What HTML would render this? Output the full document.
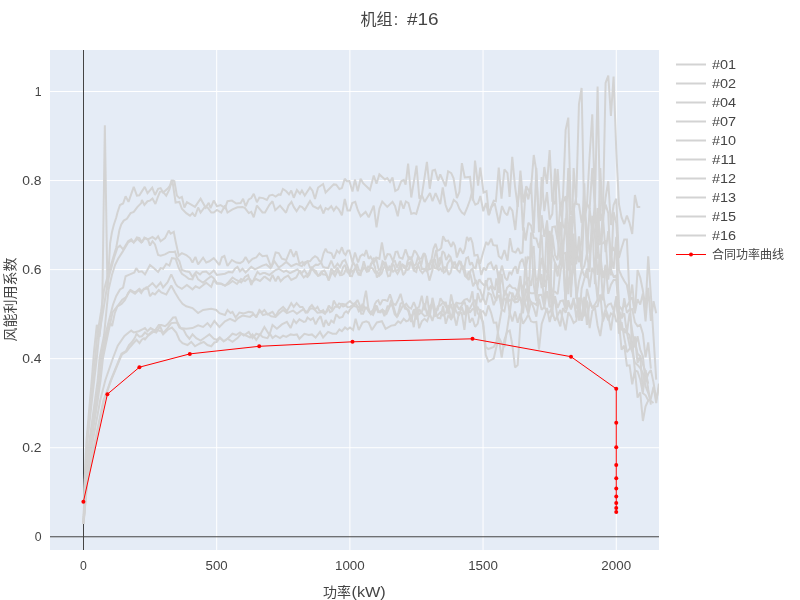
<!DOCTYPE html>
<html lang="zh"><head><meta charset="utf-8"><title>机组: #16</title>
<style>
html,body{margin:0;padding:0;background:#fff;}
svg{display:block;will-change:transform;}
text{font-family:"Liberation Sans",sans-serif;fill:#444;}
.g{fill:none;stroke:#D3D3D3;stroke-width:2;stroke-linejoin:miter;stroke-miterlimit:2;stroke-linecap:butt;}
.grid{stroke:#fff;stroke-width:1;}
.zero{stroke:#444;stroke-width:1;}
.cjk{font-family:"Liberation Sans","Noto Sans CJK SC",sans-serif;fill:#444;}
</style></head>
<body>
<svg width="800" height="600" viewBox="0 0 800 600">
<rect x="0" y="0" width="800" height="600" fill="#fff"/>
<rect x="50" y="50" width="609" height="500" fill="#E5ECF6"/>
<g class="grid">
<line x1="216.69" y1="50" x2="216.69" y2="550"/>
<line x1="349.88" y1="50" x2="349.88" y2="550"/>
<line x1="483.06" y1="50" x2="483.06" y2="550"/>
<line x1="616.25" y1="50" x2="616.25" y2="550"/>
<line x1="50" y1="447.72" x2="659" y2="447.72"/>
<line x1="50" y1="358.67" x2="659" y2="358.67"/>
<line x1="50" y1="269.61" x2="659" y2="269.61"/>
<line x1="50" y1="180.56" x2="659" y2="180.56"/>
<line x1="50" y1="91.5" x2="659" y2="91.5"/>
</g>
<g class="zero"><line x1="83.5" y1="50" x2="83.5" y2="550"/><line x1="50" y1="536.78" x2="659" y2="536.78"/></g>
<clipPath id="cp"><rect x="50" y="50" width="609" height="500"/></clipPath>
<g clip-path="url(#cp)">
<polyline class="g" points="83.5,524 84.7,480 86.5,440 90,400 91.75,380 93.5,358 94.16,350 96.82,324.75 99.48,337 102.15,312 104.85,125.2 107.47,290 110.14,243 111.9,232.5 113.75,225 116.25,217.5 117.5,212.5 120,205 123.1,203.5 125.6,196.25 128.5,201.9 133.75,186.9 136.9,195.6 139.4,195.25 144.75,186.9 147.5,193.1 152.25,187.75 155,195 158.1,188.75 160.6,188.1 163.1,192.5 167.5,188.75 170,185.6 171.6,180.6 173.1,180.6 174.4,181.25 176.9,195.6 179.4,198.1 181.9,196.9 184.4,207.5 186.9,202.25 195,206.9 200.6,198.75 205.6,207.5 208.75,202.75 210.6,208.1 213.75,200.6 216.9,206.25 220.6,205 225,208.1 227.5,201.25 231.9,200.6 236.25,203.5 240.6,203.1 243.1,198.75 245.6,206.25 248.75,199.4 251.25,198.1 253.75,193.75 256.9,202.25 259.4,197.5 263.1,198.1 266.9,200 269.4,195.6 272.5,194.75 275.6,196.5 278.75,194.4 280.6,194.75 282.9,189 286.25,191.25 289,194.4 291.25,190.6 293.75,197.75 296.9,190 300,193.75 301.9,190.6 304.75,195.6 310,187.5 312.5,190.6 315,199 318.1,187.5 323.1,184 325.6,192.5 333.75,184.4 336.25,184.75 339.4,189 341.9,188.1 344.75,178.75 346.9,181.25 349.4,181 352.5,191.5 355,179.4 357.75,191.25 360.6,178.75 363.1,183.1 370,189.75 373.75,175.6 376.5,183.75 379.4,174.4 385,179.4 387.25,178.1 390,181.9 392.5,177.5 395.25,191 398.1,189.4 401.25,181.25 403.75,180 405.6,184.75 408.1,163.5 411.25,197.5 416.5,165.6 419.4,198.75 421.9,195 426.9,161.9 429.75,188.75 432.5,170.6 435,169.75 438.1,180.6 440.25,174.4 445.6,186.25 448.1,171.25 451.25,173.1 453.5,178.1 456.9,198.1 459.4,191.9 461.9,163.1 464.75,177.5 470,176.9 472.75,200.6 475,160.6 478.1,185.6 480.25,167.5 483.5,192.5 486.5,191.25 489,215 491.25,206.9 493.75,200.6 495.9,201.25 498.75,167.5 501.5,198.75 504.4,169.4 507.5,173.1 509.6,196.9 512.25,156.9 515,186.25 517.75,206.9 520.4,170.6 523.4,202.5 526.25,186.25 530.6,193.75 533.75,155 536,168.75 539,220.13 541.66,197.86 544.33,167 546.99,183.96 549.66,150 552.32,201.04 554.98,203.99 557.65,169 560.31,209.44 562.97,197.49 565.64,130 568.3,117.6 570.97,214.84 573.63,210.69 576.29,196.59 578.96,104 581.62,88 584.28,219.76 586.95,205.51 589.61,156 592.28,114.4 594.94,203.72 597.6,86.4 600.27,220.84 602.93,212.64 605.59,83 608.26,75.6 610.92,116 613.59,76.6 616.25,150 618.91,204 621.58,217.5 624.24,224 626.9,215.6 629.57,223 632.23,234 634.9,195 637.56,207 640.22,207"/>
<polyline class="g" points="83.5,524 84.9,480 87,440 91,400 93,380 95.2,358 97.3,335 101,312 104,290 108,275 112.5,260 116.25,247.5 118.75,233.75 119.4,230 121.25,224.4 123.75,220.6 126.9,218.75 130.6,213.1 133.75,211.9 137.5,206.9 141.25,203.1 141.9,200 144.4,205 147.5,201.25 150,200.6 152.5,198.5 155.4,204 158.1,196.25 160,191.9 162.5,191.25 166.25,195.6 169.4,189.4 171.9,180.6 172.5,181.25 175.6,202.5 179.4,201.9 181.9,208.75 186.25,213.1 190,215.6 192.5,213.1 195,216.5 198.1,207.5 200.6,212.5 204.4,207.5 207.5,207.5 211.25,212.5 213.75,212.5 216.9,210 221.25,212.5 225,205.6 227.5,212.5 232.5,209.4 237.5,207.25 242.5,206.9 245,208.1 248.75,213.1 251.25,211.9 253.75,217.25 256.9,205.6 262.5,212.5 265,212.5 269.4,204.75 272.5,201.25 275.25,210.25 280,205.6 286,212.75 288.5,205.6 291.5,201.9 293.75,206.9 296.6,211.25 299.75,206.25 301.9,206.9 304.75,210 310,201 313.1,206.25 318.1,208.75 320.4,206 323.5,213.5 325.6,208.1 328.1,209.4 331.25,206.25 333.75,210.6 336.25,206.9 338.75,209.4 341.9,215.25 344.75,199 347.5,210.6 350,210.6 352.25,203.1 355.25,201.9 357.75,210 360.6,216.25 365.6,211.9 368.75,217.25 373.75,205.6 376.5,227.25 379.4,208.75 382.25,201.5 387.25,206.9 392.5,201.9 395,206 397.75,216.25 400.6,200.6 403.5,208.75 405.9,201.5 408.5,203.1 411.25,213.75 414,213.1 416.25,214 419.4,203.1 421.9,195 424.6,201.9 430,193.1 432.5,201.25 435.6,193.1 440.25,204.1 442.75,187.5 445.6,205 448.1,211.9 451.25,206.9 453.75,200 456.9,202.5 459.4,208.75 461.9,212.5 464.4,214.4 467.5,206.9 470,200 471.9,192.5 473.5,200.6 475.3,204.7 478,203.3 480.4,196 483.3,211.3 486,203 488.7,215.3 491.3,207.3 494.7,203.3 498.9,223.3 502,206 504.7,212.7 507.3,215.3 509.6,206.7 512.4,210.7 515.3,230 517.69,203.35 520.36,181.93 523.02,230.61 525.68,189.7 528.35,199.45 531.01,183.16 533.67,233.03 536.34,168 539,232.16 541.66,177.15 544.33,211.22 546.99,192.16 549.66,219.62 552.32,213.9 554.98,168.44 557.65,239.09 560.31,205.9 562.97,225.47 565.64,230.21 568.3,168 570.97,265.39 573.63,168 576.29,203.88 578.96,204.54 581.62,222.84 584.28,204.86 586.95,203.61 589.61,208.81 592.28,168 594.94,208.13 597.6,258.74 600.27,168 602.93,222.13 605.59,197.5 608.26,181.25 610.92,225 613.59,205 616.25,198.75 618.91,258 621.58,248 624.24,239.5 626.9,239.5 629.57,297 632.23,348.4 634.9,336.43 637.56,362.89 640.22,355.72 642.89,392.26 645.55,370.23 648.21,389.16 650.88,404.68"/>
<polyline class="g" points="83.5,524 85.1,480 87.6,440 92,400 94.25,380 96.8,358 99.1,335 103,312 106.5,290 108.75,277.5 114,258 117.5,247.5 120,245.6 123.1,249.4 128.1,241.25 131.25,239.4 133.75,242.5 136.9,237.5 139.4,238.1 141.9,242.5 144.4,237.5 148.1,239.4 152.5,236.9 155.6,239.4 158.1,236.25 160.6,241.25 165,238.1 168.75,230.6 170.6,233.75 173.75,231.9 175.6,241.25 178.75,255.6 181.9,253.1 186.25,255 190,258.1 192.5,262.5 195.4,256.9 198.1,264.4 203.1,257.75 206.25,262.5 209.4,261.25 213.75,258.1 216.9,261.9 219.4,265 221.9,257.25 224.4,256 227.5,266 231.9,260 236.25,262.5 240,263.1 243.1,261.25 245.6,256.9 248.75,262.5 252.5,258.75 256.25,257.5 259.4,253.5 262.5,256.25 266.9,255.6 271.25,267.5 275.6,252.5 278.75,253.1 281.9,258.75 286.25,260 290.6,249.4 293.75,256.9 296.25,251.25 299.4,263.75 302.5,261.9 304.4,265 307.5,261.25 310,261.29 312.5,258.1 315,256.23 317.5,257.75 319.38,260.89 321.25,261.9 323.43,253.66 325.6,248.75 327.5,252.15 329.4,252.5 331.57,253.28 333.75,258.75 336.9,250.6 339.4,253.1 341.9,247.25 343.75,252.9 345.6,255 347.5,250.73 349.4,250.6 352.5,262.5 355,252.5 358.1,262.5 360.3,256.16 362.5,254.4 364.38,255.44 366.25,250 368.75,258.75 370.62,256.75 372.5,260 374.38,262.03 376.25,257.5 379.4,258.75 381.9,242.5 385,260 387.5,254.06 390,254.4 393.1,261.25 395.6,251.9 397.5,251.57 399.4,257.5 402.5,258.75 405.6,249.4 408.75,258.75 410.62,259.45 412.5,256.25 414.38,250.33 416.25,252.5 419.4,258.75 421.57,258.45 423.75,253.1 425.62,256.12 427.5,263.75 429.38,264.75 431.25,261.25 433.43,248.74 435.6,243.75 437.5,250.69 439.4,250 441.25,247.78 443.1,236.25 445.6,240.87 448.1,240.6 451.25,246.9 453.1,241.9 455,245.94 456.9,257.5 460,248.1 463.1,253.75 465,248.3 466.9,236.9 468.75,240.26 470.6,237.5 472.5,242.99 474.4,255.6 477.5,255 480,263.75 483.1,252.5 486.25,241.9 488.1,245 491.25,238.75 493.12,244.92 495,245.6 496.88,245.6 498.75,256.25 501.57,258.61 504.4,250 507.5,260.6 510,238.1 512.5,251.25 515.6,252.5 518.1,248.1 520.3,253.22 522.5,252.5 523.75,227.5 525.68,240.51 528.35,222.79 531.01,225.57 533.67,237.98 536.34,238.63 539,247.88 541.66,234.73 544.33,287.06 546.99,220.35 549.66,254.73 552.32,227.02 554.98,226.4 557.65,239.99 560.31,258.72 562.97,202.69 565.64,196.03 568.3,226.62 570.97,256.32 573.63,203.31 576.29,252.16 578.96,262.13 581.62,238.46 584.28,183.41 586.95,256.77 589.61,208.15 592.28,234.24 594.94,201.44 597.6,245.34 600.27,243.62 602.93,214.48 605.59,204.67 608.26,213.14 610.92,275.34 613.59,212.01 616.25,223.2 618.91,270 621.58,276 624.24,281 626.9,285 629.57,300 632.23,297.49 634.9,313.46 637.56,270 640.22,277.5 642.89,290.54 645.55,308.73 648.21,256.25 650.88,295 653.54,337.32 656.21,379.66"/>
<polyline class="g" points="83.5,524 85.6,480 89.5,440 95,400 97.75,380 99.6,358 104.1,335 106.3,312 108.5,290 111.9,275 115,265 118.1,258.75 122.5,251.9 128.1,242.5 131.25,240.6 133.75,242.5 137.5,238.75 141.25,242.5 145,238.1 148.1,240 150,245.6 152.5,241.25 155,244.4 158.1,255 160.6,255.6 165,254.4 169.4,251.9 173.75,251.9 175,251.5 176.9,257.5 179.4,261.25 181.9,270 185.6,271.25 189.4,271.9 192.5,276.9 196.25,271.9 200,274.4 202.5,271.9 206.25,271.5 209.4,274.4 213.75,270.6 216.9,275 220,274.4 225,273.75 228.75,271.9 232.5,272.5 235,268.75 237.5,266.9 240,271.25 242.5,268.75 245.6,272.5 251.25,266.9 255,269.4 257.5,268.1 262.5,265.6 266.25,264.4 270.6,268.1 274.4,261.25 278.75,267.5 282.5,265 286.25,261.9 291.25,266.25 296.25,263.75 299.4,265 301.9,266.25 304.4,262.5 307.5,261.25 310,267.5 311.88,267.98 313.75,266.25 315.93,264.64 318.1,265 321.25,262.5 323.12,267.01 325,267.5 328.1,268.1 331.25,260.6 334.4,268.1 337.5,263.75 340,266.9 342.5,261.47 345,260 347.5,266.25 350,273.1 353.1,261.9 356.25,268.1 358.43,274.61 360.6,275 363.75,261.25 365.62,267.57 367.5,270 369.38,269.68 371.25,263.75 373.75,258.3 376.25,258.75 378.75,270 380.62,269.11 382.5,261.25 384.38,262.72 386.25,270 388.12,276.2 390,275.6 393.1,261.25 395,261.12 396.9,267.5 400,261.25 403.1,275 405.3,272.27 407.5,261.25 409.38,257.14 411.25,257.5 413.75,266.25 415.93,264.15 418.1,256.25 421.25,265 423.12,255.94 425,253.75 427.2,270.66 429.4,280.6 432.5,270 434.38,257.98 436.25,250 438.75,267.5 440.62,261.76 442.5,251.25 444.38,253.03 446.25,260 448.75,255 450.62,257.31 452.5,265 454.38,261.77 456.25,267.5 459.4,260.6 462.5,268.75 464.38,267.57 466.25,258.1 468.12,257.14 470,265 471.88,262.27 473.75,267.5 475.62,268.29 477.5,258.75 479.38,264.57 481.25,275 483.75,267.5 485.93,270.35 488.1,264.4 490.93,262.34 493.75,270 496.25,265 498.75,280 501.9,265.6 505,277.5 507.2,280.29 509.4,271.9 511.57,274.19 513.75,268.75 515.62,266.24 517.5,273.75 520,262.5 522.5,258.75 524.38,266.19 526.25,265 528.12,257.23 530,258.75 533.67,246.07 536.34,294.03 539,273.24 541.66,215.2 544.33,236.83 546.99,221.79 549.66,306.42 552.32,234.73 554.98,255.07 557.65,260.19 560.31,221.96 562.97,252.51 565.64,218.26 568.3,270.76 570.97,216.11 573.63,264.82 576.29,263.29 578.96,236.26 581.62,266.82 584.28,208.87 586.95,229.06 589.61,253.82 592.28,234.68 594.94,213.33 597.6,241.57 600.27,269.85 602.93,216.76 605.59,252.1 608.26,231.12 610.92,251.66 613.59,248.31 616.25,254.95 618.91,305.6 621.58,309.31 624.24,305.95 626.9,306.4 629.57,301.42 632.23,284.5 634.9,312.53 637.56,299.08 640.22,304.61 642.89,293.36 645.55,321.3 648.21,287.87 650.88,320.86 653.54,301.11 656.21,313.22"/>
<polyline class="g" points="83.5,524 85.8,480 90,440 96,400 98.7,380 100.8,358 105.3,335 108.75,321.5 112.9,305 116.25,296 120,289.4 123.1,287.5 125.6,276.25 130,274.4 134.4,272.5 136.25,268.1 138.75,271.9 141.9,271.25 145,274.4 150,265 153.75,268.1 158.1,271.9 160.6,268.1 163.1,268.75 166.25,263.75 169.4,265.6 171.9,258.1 175.6,258.75 178.75,268.1 181.9,273.75 185.6,276.25 188.75,278.75 192.5,279.4 195,273.1 198.1,279.4 203.1,282.75 207.5,279 211.25,276.25 213.75,278.1 216.9,283.1 221.25,283.75 225,285.6 228.75,281.9 232.5,277.5 236.25,280 241.25,282.5 245,276.9 248.1,275 251.25,285 255,276.9 257.5,271.9 260,274.4 263.1,273.1 265,273.1 269.4,275 272.5,272.5 275.6,270 278.75,268.75 283.75,271.9 286.25,270.6 290,273.1 293.75,271.25 297.5,269.4 301.25,273.75 304.4,270 307.5,275 309.38,272.18 311.25,267.5 313.75,270 315.93,271.05 318.1,276.25 321.25,271.9 323.12,274.47 325,274.4 326.88,275.66 328.75,280.6 331.25,268.75 334.4,272.5 337.5,267.5 339.38,272.46 341.25,273.1 343.12,267.21 345,265 347.5,272.22 350,273.75 351.88,270.26 353.75,271.9 356.9,263.75 358.75,269.84 360.6,271.25 362.8,267.34 365,268.1 366.88,271.77 368.75,271.25 370.93,263.61 373.1,262.5 375,267.1 376.9,277.5 379.07,274.73 381.25,268.75 383.43,263.26 385.6,262.5 387.8,269.25 390,270 391.88,264.38 393.75,265 395.93,270.59 398.1,270 400.3,265.17 402.5,265 404.38,268.11 406.25,267.5 408.75,262.97 411.25,262.5 413.75,270.59 416.25,271.9 418.12,263.88 420,261.25 421.88,269.06 423.75,268.75 425.62,269.22 427.5,263.1 429.38,269.29 431.25,268.75 433.12,259.94 435,260 436.88,267.97 438.75,270 440.62,268.31 442.5,271.9 444.38,267.33 446.25,267.5 448.75,275 450.62,272.59 452.5,265 455,262.83 457.5,270 459.7,272.16 461.9,266.25 464.07,266.43 466.25,276.25 468.75,280 470.62,270.33 472.5,268.75 475,279.85 477.5,285 479.38,279.21 481.25,282.5 483.75,285 485.93,284.76 488.1,278.75 490.6,278.75 492.5,286.25 495,290 496.38,278.47 499.04,292.89 501.71,273.89 504.37,296.45 507.04,287.77 509.7,284.91 512.36,287.89 515.03,288.23 517.69,291.84 520.36,276 523.02,302.82 525.68,256.55 528.35,310.89 531.01,232.41 533.67,284.46 536.34,301.21 539,268.85 541.66,288.04 544.33,283.39 546.99,279.21 549.66,230.79 552.32,254.38 554.98,262.72 557.65,268.12 560.31,264.42 562.97,253.68 565.64,252.76 568.3,294.29 570.97,250.95 573.63,270.76 576.29,248.24 578.96,248.78 581.62,268.87 584.28,275.47 586.95,277.06 589.61,258.57 592.28,222.99 594.94,284.27 597.6,207.97 600.27,243.66 602.93,243.39 605.59,240.51 608.26,279.76 610.92,256.5 613.59,268.8 616.25,236.81 618.91,311.57 621.58,318.17 624.24,298.08 626.9,312.92 629.57,309.44 632.23,309.16 634.9,322.2 637.56,326.11 640.22,324.84 642.89,333.61 645.55,357.35 648.21,342.47 650.88,368.63"/>
<polyline class="g" points="83.5,524 86,480 90.8,440 97,400 99.7,380 102,358 106.5,335 110.25,323 112.1,326 114.75,313.25 117.4,306.5 121.5,303.9 125,300 128.1,293.1 130.6,290 135,292.5 139.4,288.75 141.9,291.25 146.25,287.5 148.1,286.9 152.5,283.1 156.25,287.5 160.6,282.5 163.1,287.5 167.5,282.5 171.25,274.4 175.6,283.75 177.5,286.25 181.9,288.75 186.9,285 192.5,289.4 195.6,286.25 199.4,288.1 206.25,282.75 211.25,286.9 213.75,280 216.9,283.75 221.25,283.75 225,285.6 228.75,284 232.5,281 237,284 241,279 245,281 248.75,278 252,282 256,279 260,281 264,277 265,276.9 270,280.6 272.5,275 275.6,281.25 278.1,276.25 280.6,281.25 284.4,277.5 288.1,275.6 291.25,280 296.25,277.5 300,270.6 301.88,274.81 303.75,277.5 305.62,275.78 307.5,276.9 309.38,274.71 311.25,269.4 313.12,269.75 315,272.5 318.1,275.6 320.3,275.09 322.5,271.25 324.38,270.47 326.25,273.75 328.75,280 332,272 335,276 338,270 340,275.24 342,275 344,273.54 346,269 348,270.89 350,276 352,276.1 354,270 355.75,268.29 357.5,272.5 360,273.67 362.5,270 364.38,267.57 366.25,270 368.12,266.66 370,267.5 372.5,268.25 375,272.5 377.2,271.7 379.4,275.6 381.57,273.49 383.75,267.5 385.62,265.89 387.5,271.25 389.38,266.45 391.25,267.5 393.12,271.56 395,270 397.5,273.82 400,269.4 402.5,264.46 405,266.25 406.88,269.97 408.75,269.4 410.62,262.44 412.5,263.75 414.38,269.21 416.25,267.5 418.12,265.05 420,270 422.5,273.14 425,270 426.88,271.34 428.75,268.75 430.62,261.03 432.5,262.5 435,268.21 437.5,268.75 439.38,258.41 441.25,257.5 443.75,272.5 445.62,271.26 447.5,263.75 450.6,258.75 453.75,267.5 456.25,268.54 458.75,263.75 460.93,262.31 463.1,268.75 465,276.01 466.9,277.5 468.75,271.57 470.6,275 473.1,286.25 476.25,280 478.12,288.84 480,290 483.06,299 485.73,280.21 488.39,290.14 491.05,285.67 493.72,295.21 496.38,300.97 499.04,271.68 501.71,309.1 504.37,290.47 507.04,294.58 509.7,313.91 512.36,292.68 515.03,299.86 517.69,298.52 520.36,282.63 523.02,288.28 525.68,282.85 528.35,277.24 531.01,285.95 533.67,268.59 536.34,280.12 539,278.25 541.66,257.83 544.33,270.72 546.99,272.21 549.66,252.07 552.32,316.65 554.98,263.13 557.65,276.47 560.31,259.33 562.97,242.71 565.64,308.41 568.3,224.94 570.97,297.2 573.63,233.47 576.29,298.91 578.96,281.53 581.62,270.91 584.28,266.03 586.95,253.86 589.61,272.01 592.28,215.9 594.94,236.34 597.6,274.91 600.27,254.44 602.93,278.14 605.59,264.75 608.26,293.8 610.92,284.75 613.59,279.97 616.25,279.77 618.91,309.79 621.58,318.28 624.24,313.3 626.9,332.86 629.57,313.05 632.23,331.19 634.9,347.46 637.56,336.28 640.22,349.66 642.89,356.31 645.55,382.13 648.21,373.73 650.88,370.09 653.54,382.57 656.21,399.51 658.87,387.96"/>
<polyline class="g" points="83.5,524 86.2,480 91.5,440 97.75,400 100.6,380 103,358 107.75,335 112.5,312.5 117.5,306 122.25,299.75 126.25,297 130,290.6 135,293.75 138.75,290 141.25,293.1 143.75,288.75 148.1,288.75 150,296.25 152.5,293.1 155,294.4 158.75,290 161.25,292.5 166.25,294.4 171.25,285.6 175,292.5 178.75,298.75 182.5,303.75 186.25,306.25 192.5,308.1 198.1,313.1 203.1,310 211.25,308.75 216.25,310 219.4,313.1 225,315 227.5,310 230.6,313.1 232.5,311.9 235.6,317.5 239.4,312.5 243.75,313.5 248.75,311.9 252.5,312.5 256.25,317.5 259.4,310 261.9,312.5 264.4,310 267.5,314.4 272.5,311.9 275.6,316.25 278.75,310.6 283.1,306.9 286.9,311.25 291.25,303.1 293.75,306.9 296.6,303.1 300,306.9 302.5,306.9 305,311.02 307.5,311.9 309.7,307.39 311.9,305 315,309.4 317.5,306.9 319.38,310.69 321.25,311.25 323.12,310.12 325,313.1 326.88,311.66 328.75,305.6 331.9,309.4 333.75,300.6 336.9,306.25 339.07,303.44 341.25,304.4 343.12,306.53 345,305.6 347.5,303.1 350,301.03 352.5,303.75 355,303.45 357.5,300 360.6,307.5 362.5,311.25 364.25,299.14 366,290.6 368.75,311.25 370.93,314.21 373.1,312.5 374.85,304.07 376.6,301.25 378.3,300.27 380,305 382.5,300.11 385,300 387.5,300.89 390,294.4 393.1,303.75 395.6,305 398.1,300 400.6,293.75 403.75,306.25 406.25,303.81 408.48,306.99 411.14,308.63 413.81,302.07 416.47,309 419.13,306.76 421.8,295.62 424.46,310.39 427.12,296 429.79,316.48 432.45,297.81 435.11,309.43 437.78,309.58 440.44,298.25 443.11,302.48 445.77,302.56 448.43,314.31 451.1,294.42 453.76,306.8 456.42,302.73 459.09,303.4 461.75,303.12 464.42,299.76 467.08,298.96 469.74,302.22 472.41,291.26 475.07,316.06 477.73,293.14 480.4,302.22 483.06,297.14 485.73,304.71 488.39,292.92 491.05,294.6 493.72,305.25 496.38,298.45 499.04,295.16 501.71,308.54 504.37,297.72 507.04,301.71 509.7,292.49 512.36,293.88 515.03,298.79 517.69,291.19 520.36,299.22 523.02,300.41 525.68,300.84 528.35,291.67 531.01,293.33 533.67,293.31 536.34,291.38 539,278.47 541.66,274.34 544.33,304.22 546.99,275.58 549.66,281.22 552.32,291.41 554.98,291.78 557.65,294.07 560.31,272.64 562.97,257.46 565.64,304.13 568.3,250.12 570.97,287.56 573.63,262.75 576.29,291.26 578.96,320.74 581.62,288.67 584.28,278.99 586.95,268.48 589.61,287.28 592.28,267.75 594.94,274.41 597.6,300.3 600.27,257.58 602.93,300.4 605.59,266.65 608.26,272.91 610.92,269.52 613.59,276.69 616.25,275.51 618.91,311.72 621.58,327.53 624.24,332.32 626.9,332.54 629.57,335.18 632.23,351.1 634.9,340.73 637.56,353.88 640.22,356 642.89,364.49 645.55,371.62 648.21,383.77"/>
<polyline class="g" points="83.5,524 86.6,480 93,440 100.25,400 105.4,380 113,358 117.75,345.75 124.5,336 129,332.25 131.25,330.6 133.75,332.5 138.75,331.25 142.5,329.4 145,328.1 147.5,331.25 150.6,328.1 155,330.6 158.75,325 161.25,325 165,326.25 167.5,324.4 173.1,317.5 175.6,317.25 177.5,322.5 180.6,328.1 186.25,328.75 192.5,328.1 198.1,325.25 203.1,326.9 207.5,323.1 210.6,326.9 214.4,321 219.4,326.9 225,321.25 230,318.75 235,321.25 238.1,318.1 242.5,315.6 250,316.9 253.1,314.4 256.25,316.25 260,311.25 263,315 267.5,313.75 271.25,316.25 275.6,316.9 278.75,313.75 283.1,310 286.9,313.1 293.1,310.6 296.9,313.75 301.25,310.6 303.75,309.4 305.62,312.63 307.5,312.5 310,308.75 312.5,308.25 315,310 317.5,312.65 320,312.5 322.5,312.12 325,313.75 328.1,308.1 330,312.14 331.9,311.25 335,306.9 337.2,306.23 339.4,308.1 342.2,303.76 345,304.4 347.5,307.24 350,306.9 353.1,305 355,306.25 356.88,306.74 358.75,311.25 360.62,309.55 362.5,303.75 364.38,307.25 366.25,307.5 368.12,308.07 370,312.5 373.1,315 376.25,307.5 378.12,311.94 380,311.25 382.2,310.06 384.4,316.25 387.5,306.25 389.38,306.54 391.25,300 393.75,307.5 395.62,313.91 397.5,316.25 400.6,303.75 402.8,302.52 405,308.75 408.48,309.5 411.14,319.27 413.81,309.94 416.47,309 419.13,314.16 421.8,312.03 424.46,303.38 427.12,314.57 429.79,306.19 432.45,303.57 435.11,316.23 437.78,306.25 440.44,305.39 443.11,302.34 445.77,306.4 448.43,310.63 451.1,303.92 453.76,315.43 456.42,304.04 459.09,309.65 461.75,305.56 464.42,301.56 467.08,310.63 469.74,308.62 472.41,303.49 475.07,299.73 477.73,313.42 480.4,316.5 483.06,322 485.73,347 488.39,349 491.05,348 493.72,347 496.38,342 499.04,325 501.71,309.52 504.37,311.38 507.04,296.93 509.7,300.72 512.36,299.03 515.03,302.34 517.69,301.76 520.36,297.36 523.02,313.45 525.68,288.72 528.35,295.29 531.01,303.14 533.67,303.21 536.34,304.87 539,294.96 541.66,294.82 544.33,307.37 546.99,291.11 549.66,307.41 552.32,303.78 554.98,296.23 557.65,307.89 560.31,301.02 562.97,300.42 565.64,309.28 568.3,300.23 570.97,309.52 573.63,301.14 576.29,308.61 578.96,298.4 581.62,298.44 584.28,316.4 586.95,288.93 589.61,300.25 592.28,308.14 594.94,304.44 597.6,299.65 600.27,300.46 602.93,292.87 605.59,308.66 608.26,304.56 610.92,303.45 613.59,310.27 616.25,298.54 618.91,322.73 621.58,329.67 624.24,329.19 626.9,332.62 629.57,345.41 632.23,351.51 634.9,362.66 637.56,364.91 640.22,368.09 642.89,373.3 645.55,386.13 648.21,392.95 650.88,400.96 653.54,403.03"/>
<polyline class="g" points="83.5,524 87.2,480 95.3,440 103.5,400 105.8,394.5 110.8,380 120,357.5 121.5,353.6 126,351 129,345 132,342 135,337.5 136.5,333.75 139.5,336.75 141.9,336.25 145,332.5 148.1,335 152.5,331.25 156.25,332.5 160,326.25 163.1,333.1 167.5,328.1 171.25,323.1 176.9,322.5 179.4,327.5 183.75,330 186.25,335 189.4,338.75 192.5,334.4 196.25,338.1 200.6,340.6 205,337.5 209.4,334.4 213.75,338.75 216.9,340 219.4,337.5 223.75,341.25 227.5,338.75 232.5,333.75 236.25,335 240,332.5 243.75,335.6 248.75,331.9 252.5,338.1 256.25,333.75 260,335 264.4,326.9 269.4,335 272.5,325 276.9,328.75 281.9,324.4 286.9,321.9 290.6,328.1 293.75,320 296.25,323.1 299.4,319.4 303.75,321.9 305.62,321.38 307.5,317.5 310.6,320 313.1,318.1 315.6,324.4 318.1,319.24 320.6,316.25 323.75,326.9 325.6,320 328.75,325.6 331.25,320.6 333.75,322.5 336.25,314.4 339.38,317.96 342.5,316.9 344.38,312.78 346.25,311.25 348.12,313.01 350,309.4 353.1,306.25 355.3,303.07 357.5,306.25 359.38,307.62 361.25,313.75 363.12,313.77 365,308.75 366.88,308.2 368.75,311.25 370.93,312.16 373.1,310 375,305.56 376.9,306.25 378.75,312.12 380.6,312.5 382.5,309.65 384.4,311.25 386.57,313.6 388.75,308.75 390.62,304.11 392.5,306.25 394.7,314.35 396.9,316.9 400,311.25 402.5,306.28 405,306.25 408.48,311.4 411.14,322.11 413.81,310.05 416.47,319.42 419.13,309.09 421.8,313.24 424.46,315.9 427.12,315.43 429.79,311.08 432.45,301.48 435.11,315.91 437.78,315.21 440.44,312.22 443.11,315.57 445.77,313.33 448.43,305.13 451.1,319.81 453.76,306.83 456.42,311.6 459.09,315.49 461.75,306.92 464.42,315.03 467.08,305.98 469.74,312.55 472.41,309.03 475.07,309.58 477.73,307.23 480.4,312.1 483.06,311.13 485.73,315.9 488.39,305.42 491.05,312.59 493.72,322.71 496.38,322.5 499.04,340 501.71,357.5 504.37,340 507.04,332 509.7,330.6 512.36,345 515.03,367.5 517.69,365 520.36,324 523.02,296.21 525.68,305.09 528.35,313.98 531.01,301.16 533.67,307.81 536.34,316.66 539,298.66 541.66,309.89 544.33,307.03 546.99,311.6 549.66,312.54 552.32,305.9 554.98,299.89 557.65,318.64 560.31,326.3 562.97,308.05 565.64,312.7 568.3,304.01 570.97,308.22 573.63,298 576.29,317.59 578.96,304.95 581.62,320.95 584.28,296.94 586.95,324.89 589.61,301.76 592.28,307.64 594.94,306.8 597.6,306.24 600.27,294.4 602.93,321.32 605.59,313.21 608.26,320.52 610.92,313.38 613.59,315.85 616.25,296.08 618.91,333.72 621.58,322.14 624.24,337.87 626.9,352.14 629.57,348.79 632.23,342.46 634.9,370.49 637.56,371.53 640.22,379.46 642.89,393.26 645.55,395.29 648.21,400.36 650.88,398.59"/>
<polyline class="g" points="83.5,524 87.4,480 95.6,440 104,400 106.2,394.5 111.2,380 120.3,358 122,354.5 126.5,351.5 130.5,346.5 133.5,343 136.5,339.75 139.5,343.1 141.75,339.75 144,338.25 145,339.4 148.1,335.6 152.5,332.5 156.9,330 161.25,331.25 163.1,334.4 167.5,330 171.9,327.5 176.25,332.5 179.4,340 182.5,343.1 187.5,345 191.25,341.9 195,346.25 199.4,343.75 203.75,341.9 207.5,345 211.25,346.25 214.4,342.5 216.9,341.9 220,337.5 223.75,341.25 227.5,338.75 232.5,341.9 237.5,338.1 241.25,333.75 245,335 250,337.5 252.5,334.4 256.25,340 260,334.4 262.5,336.9 267.5,338.1 270,333.75 272.5,338.1 275.6,335.6 280,338.1 283.1,335.6 286.25,336.9 290.6,334.4 293.75,335 296.9,334.4 299.4,338.75 304.4,333.75 308.75,335 311.9,334.4 315.6,337.5 320,331.9 323.1,337.5 328.1,331.9 332.5,333.75 336.25,333.75 339.4,329.4 341.9,331.25 345,327.5 347.5,329.4 350,327.5 353.1,330 355.6,318.75 358.75,330 362.5,322.5 366.25,321.25 368.75,322.5 371.9,330 376.9,322.5 381.9,321.25 385.6,328.75 391.25,325.6 395,325 398.1,321.25 400.6,323.1 403.75,318.75 406.25,321.25 408.48,320.55 411.14,314.69 413.81,327.2 416.47,308.69 419.13,328.26 421.8,321.31 424.46,318.82 427.12,321.18 429.79,313.93 432.45,320.92 435.11,310.72 437.78,317.81 440.44,318.29 443.11,305.8 445.77,323.78 448.43,315.17 451.1,319.2 453.76,314.64 456.42,325.66 459.09,312.19 461.75,312.92 464.42,329.96 467.08,305.34 469.74,322.53 472.41,318.02 475.07,326.82 477.73,323.61 480.4,309.14 483.06,325 485.73,355 488.39,361.5 491.05,360 493.72,358.5 496.38,347 499.04,338 501.71,343 504.37,347 507.04,330 509.7,312.27 512.36,321.58 515.03,311.53 517.69,322.78 520.36,313.42 523.02,323.65 525.68,319.61 528.35,314.59 531.01,321.33 533.67,322.35 536.34,322 539,349.4 541.66,324 544.33,316.09 546.99,308.02 549.66,322.08 552.32,311.59 554.98,320.74 557.65,315.17 560.31,310.06 562.97,319.16 565.64,330.24 568.3,312.25 570.97,316.64 573.63,322.85 576.29,320.95 578.96,297.79 581.62,320.74 584.28,312.47 586.95,300.57 589.61,328.11 592.28,310.88 594.94,307.77 597.6,325.64 600.27,336 602.93,317.82 605.59,309.14 608.26,316.32 610.92,330.29 613.59,311.04 616.25,321.3 618.91,321.72 621.58,349.72 624.24,345.56 626.9,365.62 629.57,365.27 632.23,384.25 634.9,370.03 637.56,397.6 640.22,392.39 642.89,421 645.55,406.41 648.21,400.55 650.88,398.51 653.54,386.84 656.21,403.2 658.87,383.54"/>
<polyline fill="none" stroke="#f00" stroke-width="1" points="83.4,501.8 107.4,394.2 139.4,367.2 189.8,353.9 259.2,346.3 352.5,341.8 472.5,338.8 571,356.7 616.25,388.8 616.25,422.7 616.25,447.2 616.25,465 616.25,478.3 616.25,488.6 616.25,496.6 616.25,502.9 616.25,507.9 616.25,512.1"/>
<g fill="#f00"><circle cx="83.4" cy="501.8" r="2"/><circle cx="107.4" cy="394.2" r="2"/><circle cx="139.4" cy="367.2" r="2"/><circle cx="189.8" cy="353.9" r="2"/><circle cx="259.2" cy="346.3" r="2"/><circle cx="352.5" cy="341.8" r="2"/><circle cx="472.5" cy="338.8" r="2"/><circle cx="571" cy="356.7" r="2"/><circle cx="616.25" cy="388.8" r="2"/><circle cx="616.25" cy="422.7" r="2"/><circle cx="616.25" cy="447.2" r="2"/><circle cx="616.25" cy="465" r="2"/><circle cx="616.25" cy="478.3" r="2"/><circle cx="616.25" cy="488.6" r="2"/><circle cx="616.25" cy="496.6" r="2"/><circle cx="616.25" cy="502.9" r="2"/><circle cx="616.25" cy="507.9" r="2"/><circle cx="616.25" cy="512.1" r="2"/></g>
</g>
<text x="80.08" y="570" font-size="12" text-anchor="start" textLength="6.83" lengthAdjust="spacingAndGlyphs">0</text>
<text x="205.64" y="570" font-size="12" text-anchor="start" textLength="22.1" lengthAdjust="spacingAndGlyphs">500</text>
<text x="335.01" y="570" font-size="12" text-anchor="start" textLength="29.73" lengthAdjust="spacingAndGlyphs">1000</text>
<text x="468.2" y="570" font-size="12" text-anchor="start" textLength="29.73" lengthAdjust="spacingAndGlyphs">1500</text>
<text x="601.39" y="570" font-size="12" text-anchor="start" textLength="29.73" lengthAdjust="spacingAndGlyphs">2000</text>
<text x="34.77" y="541.28" font-size="12" text-anchor="start" textLength="6.83" lengthAdjust="spacingAndGlyphs">0</text>
<text x="22.22" y="452.22" font-size="12" text-anchor="start" textLength="19.28" lengthAdjust="spacingAndGlyphs">0.2</text>
<text x="22.22" y="363.17" font-size="12" text-anchor="start" textLength="19.28" lengthAdjust="spacingAndGlyphs">0.4</text>
<text x="22.22" y="274.11" font-size="12" text-anchor="start" textLength="19.28" lengthAdjust="spacingAndGlyphs">0.6</text>
<text x="22.22" y="185.06" font-size="12" text-anchor="start" textLength="19.28" lengthAdjust="spacingAndGlyphs">0.8</text>
<text x="34.77" y="96" font-size="12" text-anchor="start" textLength="6.83" lengthAdjust="spacingAndGlyphs">1</text>
<line x1="676" y1="64.5" x2="706" y2="64.5" stroke="#D3D3D3" stroke-width="2"/>
<text x="712" y="69" font-size="12" text-anchor="start" textLength="24.12" lengthAdjust="spacingAndGlyphs">#01</text>
<line x1="676" y1="83.5" x2="706" y2="83.5" stroke="#D3D3D3" stroke-width="2"/>
<text x="712" y="88" font-size="12" text-anchor="start" textLength="24.12" lengthAdjust="spacingAndGlyphs">#02</text>
<line x1="676" y1="102.5" x2="706" y2="102.5" stroke="#D3D3D3" stroke-width="2"/>
<text x="712" y="107" font-size="12" text-anchor="start" textLength="24.12" lengthAdjust="spacingAndGlyphs">#04</text>
<line x1="676" y1="121.5" x2="706" y2="121.5" stroke="#D3D3D3" stroke-width="2"/>
<text x="712" y="126" font-size="12" text-anchor="start" textLength="24.12" lengthAdjust="spacingAndGlyphs">#07</text>
<line x1="676" y1="140.5" x2="706" y2="140.5" stroke="#D3D3D3" stroke-width="2"/>
<text x="712" y="145" font-size="12" text-anchor="start" textLength="24.12" lengthAdjust="spacingAndGlyphs">#10</text>
<line x1="676" y1="159.5" x2="706" y2="159.5" stroke="#D3D3D3" stroke-width="2"/>
<text x="712" y="164" font-size="12" text-anchor="start" textLength="24.12" lengthAdjust="spacingAndGlyphs">#11</text>
<line x1="676" y1="178.5" x2="706" y2="178.5" stroke="#D3D3D3" stroke-width="2"/>
<text x="712" y="183" font-size="12" text-anchor="start" textLength="24.12" lengthAdjust="spacingAndGlyphs">#12</text>
<line x1="676" y1="197.5" x2="706" y2="197.5" stroke="#D3D3D3" stroke-width="2"/>
<text x="712" y="202" font-size="12" text-anchor="start" textLength="24.12" lengthAdjust="spacingAndGlyphs">#13</text>
<line x1="676" y1="216.5" x2="706" y2="216.5" stroke="#D3D3D3" stroke-width="2"/>
<text x="712" y="221" font-size="12" text-anchor="start" textLength="24.12" lengthAdjust="spacingAndGlyphs">#15</text>
<line x1="676" y1="235.5" x2="706" y2="235.5" stroke="#D3D3D3" stroke-width="2"/>
<text x="712" y="240" font-size="12" text-anchor="start" textLength="24.12" lengthAdjust="spacingAndGlyphs">#16</text>
<line x1="676" y1="254.5" x2="706" y2="254.5" stroke="#f00" stroke-width="1"/><circle cx="691" cy="254.5" r="2" fill="#f00"/>
<text class="cjk" x="712" y="259" font-size="12" text-anchor="start">合同功率曲线</text>
<text class="cjk" x="360.5" y="25" font-size="16" text-anchor="start">机组</text>
<text x="393.85" y="25" font-size="16" text-anchor="start">:</text>
<text x="407" y="25" font-size="16" text-anchor="start" textLength="31.6" lengthAdjust="spacingAndGlyphs">#16</text>
<text class="cjk" x="323" y="597" font-size="14" text-anchor="start">功率</text>
<text x="351.5" y="597" font-size="14" text-anchor="start" textLength="34.27" lengthAdjust="spacingAndGlyphs">(kW)</text>
<g transform="translate(14.5,341.5) rotate(-90)"><text class="cjk" x="0" y="0" font-size="14" text-anchor="start">风能利用系数</text></g>
</svg>
</body></html>
